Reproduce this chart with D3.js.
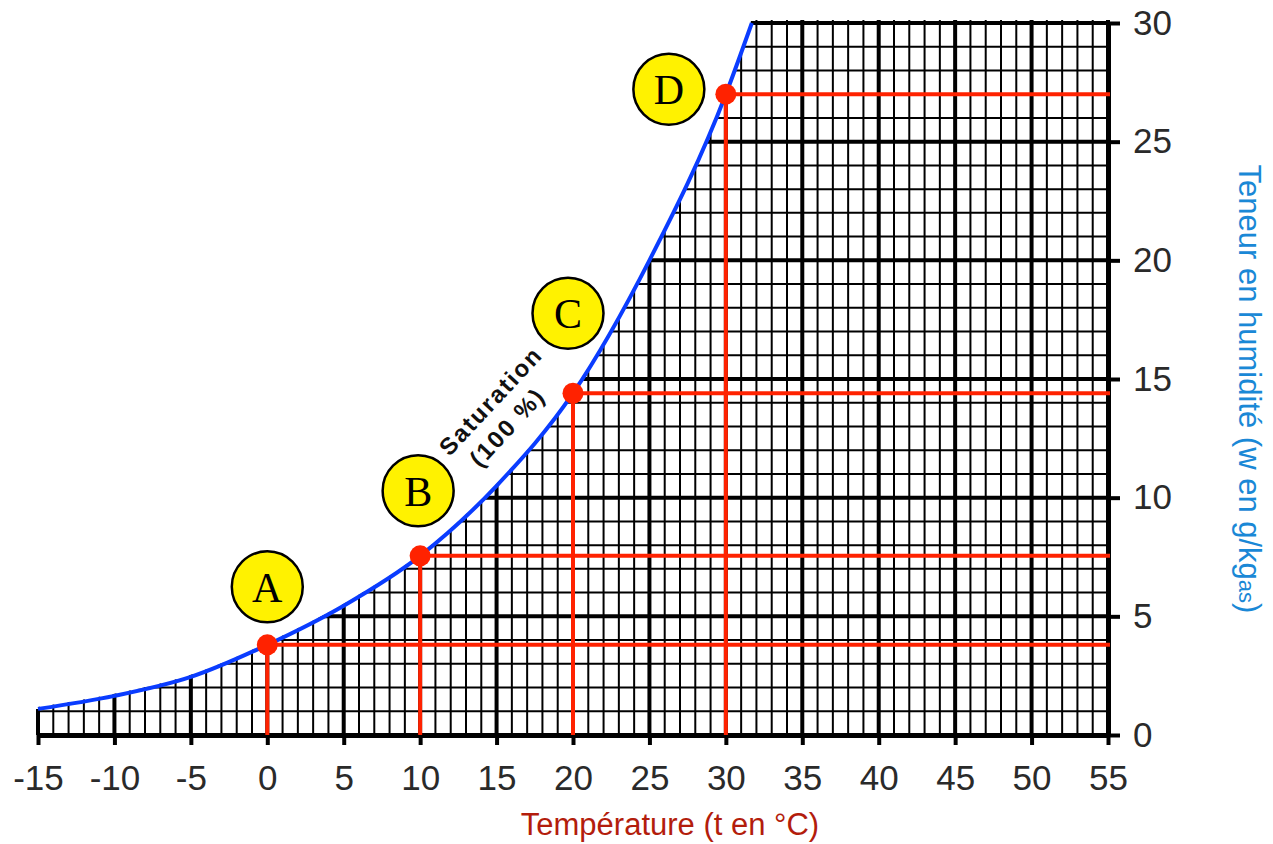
<!DOCTYPE html>
<html>
<head>
<meta charset="utf-8">
<script src="https://cdn.jsdelivr.net/npm/d3@7"></script>
<style>
  body { margin: 0; background: #fff; }
  svg { display: block; }
</style>
</head>
<body>
<svg id="chart"></svg>
<script>
// saturation curve (100 %), w in g/kg as a function of t in °C
var satTemp = [-15, -10, -5, 0, 5, 10, 15, 20, 25, 30, 31.7];
var satW = [1.1, 1.65, 2.45, 3.8, 5.45, 7.55, 10.5, 14.4, 20.0, 27.0, 30];

// the four points A B C D
var ptNames = ["A", "B", "C", "D"];
var ptTemp = [0, 10, 20, 30];
var ptW = [3.8, 7.55, 14.4, 27.0];

// tick labels
var xTicks = [-15, -10, -5, 0, 5, 10, 15, 20, 25, 30, 35, 40, 45, 50, 55];
var yTicks = [0, 5, 10, 15, 20, 25, 30];

var outerWidth = 1273;
var outerHeight = 844;

var svg = d3
  .select("#chart")
  .attr("width", outerWidth)
  .attr("height", outerHeight);

var x = d3.scaleLinear().domain([-15, 55]).range([38, 1108]);
var y = d3.scaleLinear().domain([0, 30]).range([735, 23]);

var satData = satTemp.map((t, i) => ({ t: t, w: satW[i] }));
var tMax = satTemp[satTemp.length - 1];

// clip: everything under the saturation curve
var defs = svg.append("defs");
var clip = defs.append("clipPath").attr("id", "under");
var area = d3
  .area()
  .x((d) => x(d.t))
  .y0(y(0) + 3)
  .y1((d) => y(d.w) - 2)
  .curve(d3.curveMonotoneX);
clip.append("path").attr("d", area(satData));
clip
  .append("rect")
  .attr("x", x(tMax) - 1)
  .attr("y", y(30) - 3)
  .attr("width", x(55) - x(tMax) + 4)
  .attr("height", y(0) - y(30) + 6);
clip
  .append("rect")
  .attr("x", x(-15) - 3)
  .attr("y", y(satW[0]))
  .attr("width", 4)
  .attr("height", y(0) - y(satW[0]) + 3);

// draw grid
var grid = svg.append("g").attr("clip-path", "url(#under)");
var vLines = d3.range(-15, 56, 1);
var hLines = d3.range(0, 31, 1);

grid
  .selectAll(".v")
  .data(vLines)
  .enter()
  .append("line")
  .attr("x1", (d) => x(d))
  .attr("x2", (d) => x(d))
  .attr("y1", y(0))
  .attr("y2", y(30) - 3)
  .attr("stroke", "#000")
  .attr("stroke-width", (d) => (d % 5 == 0 ? 4 : 2));

grid
  .selectAll(".h")
  .data(hLines)
  .enter()
  .append("line")
  .attr("y1", (d) => y(d))
  .attr("y2", (d) => y(d))
  .attr("x1", x(-15))
  .attr("x2", x(55))
  .attr("stroke", "#000")
  .attr("stroke-width", (d) => (d % 5 == 0 ? 4 : 2));

// axes
var xAxis = d3
  .axisBottom(x)
  .tickValues(xTicks)
  .tickFormat((d) => String(d))
  .tickSize(10)
  .tickSizeOuter(0)
  .tickPadding(20);
var gx = svg
  .append("g")
  .attr("transform", `translate(0,${y(0)})`)
  .call(xAxis);

var yAxis = d3
  .axisRight(y)
  .tickValues(yTicks)
  .tickFormat((d) => String(d))
  .tickSize(12)
  .tickSizeOuter(0)
  .tickPadding(13);
var gy = svg
  .append("g")
  .attr("transform", `translate(${x(55)},0)`)
  .call(yAxis);

[gx, gy].forEach((g) => {
  g.select(".domain").attr("stroke", "#000").attr("stroke-width", 5);
  g.selectAll(".tick line").attr("stroke", "#000").attr("stroke-width", 4);
  g.selectAll(".tick text")
    .attr("fill", "#2a2a2a")
    .style("font-family", "'Liberation Sans', Arial, sans-serif")
    .style("font-size", "35px");
});

// saturation curve
var line = d3
  .line()
  .x((d) => x(d.t))
  .y((d) => y(d.w))
  .curve(d3.curveMonotoneX);
svg
  .append("path")
  .attr("d", line(satData))
  .attr("fill", "none")
  .attr("stroke", "#0a3cff")
  .attr("stroke-width", 4);

// red reading lines
var red = "#ff2200";
var pts = svg.append("g");
ptTemp.forEach((t, i) => {
  pts
    .append("line")
    .attr("x1", x(t))
    .attr("x2", x(t))
    .attr("y1", y(ptW[i]))
    .attr("y2", y(0))
    .attr("stroke", red)
    .attr("stroke-width", 4);
  pts
    .append("line")
    .attr("x1", x(t))
    .attr("x2", x(55) + 2)
    .attr("y1", y(ptW[i]))
    .attr("y2", y(ptW[i]))
    .attr("stroke", red)
    .attr("stroke-width", 4);
});
pts
  .selectAll("circle")
  .data(ptTemp)
  .enter()
  .append("circle")
  .attr("cx", (d) => x(d))
  .attr("cy", (d, i) => y(ptW[i]))
  .attr("r", 10.5)
  .attr("fill", red);

// yellow labels (offset from each point)
var labelOffset = [
  [0, -58],
  [-2, -65],
  [-5, -80],
  [-57, -5],
];
var labels = svg
  .selectAll(".lab")
  .data(ptNames)
  .enter()
  .append("g")
  .attr(
    "transform",
    (d, i) =>
      `translate(${x(ptTemp[i]) + labelOffset[i][0]},${
        y(ptW[i]) + labelOffset[i][1]
      })`
  );
labels
  .append("circle")
  .attr("r", 35.5)
  .attr("fill", "#fff200")
  .attr("stroke", "#000")
  .attr("stroke-width", 2.5);
labels
  .append("text")
  .attr("text-anchor", "middle")
  .attr("y", 15)
  .style("font-family", "'Liberation Serif', 'Times New Roman', serif")
  .style("font-size", "42px")
  .attr("fill", "#000")
  .text((d) => d);

// saturation label
var sat = svg
  .append("g")
  .attr("transform", "translate(491,401) rotate(-47)")
  .style("font-family", "'Liberation Sans', Arial, sans-serif")
  .style("font-weight", "bold")
  .style("font-size", "24px")
  .style("letter-spacing", "2px")
  .attr("fill", "#111");
sat.append("text").attr("text-anchor", "middle").attr("y", 8).text("Saturation");
sat
  .append("text")
  .attr("text-anchor", "middle")
  .attr("x", -8)
  .attr("y", 38)
  .text("(100 %)");

// axis titles
svg
  .append("text")
  .attr("x", 670)
  .attr("y", 835)
  .attr("text-anchor", "middle")
  .style("font-family", "'Liberation Sans', Arial, sans-serif")
  .style("font-size", "31px")
  .attr("fill", "#b31d0c")
  .text("Température (t en °C)");

var yt = svg
  .append("text")
  .attr("transform", "translate(1239,389) rotate(90)")
  .attr("text-anchor", "middle")
  .style("font-family", "'Liberation Sans', Arial, sans-serif")
  .style("font-size", "31px")
  .attr("fill", "#1a88d6");
yt.append("tspan").text("Teneur en humidité (w en g/kg");
yt.append("tspan").style("font-size", "22px").text("as");
yt.append("tspan").text(")");
</script>
</body>
</html>
